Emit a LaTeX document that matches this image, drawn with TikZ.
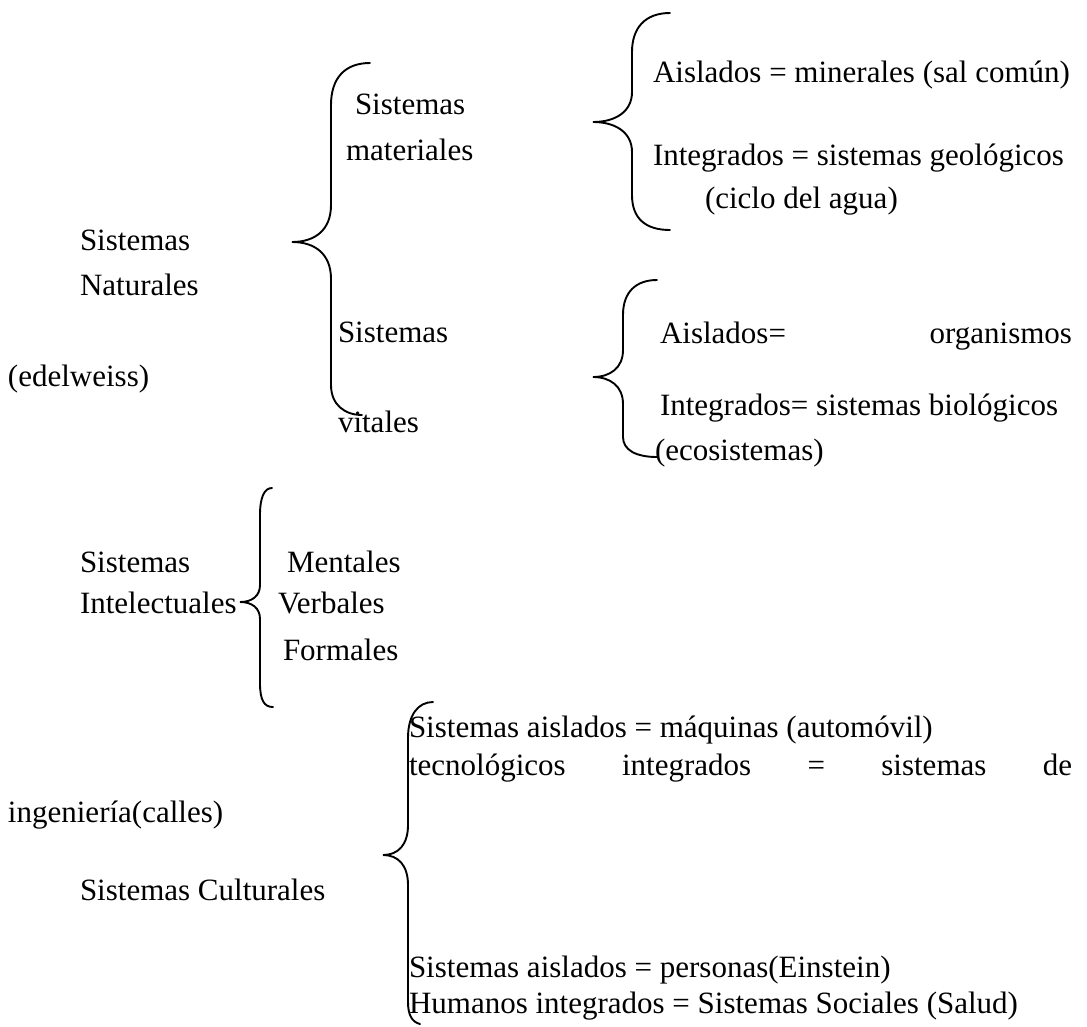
\documentclass[tikz,border=0pt]{standalone}
\usepackage{fontspec}
\setmainfont{Liberation Serif}
\usetikzlibrary{positioning}

\begin{document}
\begin{tikzpicture}[
            x=1pt, y=-1pt,
            font=\fontsize{31}{36}\selectfont,
            % Stili
            texto/.style={anchor=base west, inner sep=0pt, outer sep=0pt},
            giustif/.style={texto, text width=#1, align=justify},
            llave/.style={draw=black, line width=1.9pt, line cap=round}
        ]
        \useasboundingbox (0,0) rectangle (1087,1026);

        % Sistemas Naturales
        \node (nat_a) [texto] at (80,250) {Sistemas};
        \node (nat_b) [texto] at (80,295) {Naturales};
        \node (nat_c) [texto] at (8,386) {(edelweiss)};
        \draw [llave] (370,63) .. controls (345,63) and (331,78) .. (331,105) -- (331,205)
            .. controls (331,230) and (315,242) .. (292,242) .. controls (315,242) and (331,254) .. (331,279)
            -- (331,385) .. controls (331,405) and (345,415) .. (362,415);

        \node (mat_a) [texto] at (355,114) {Sistemas};
        \node (mat_b) [texto] at (346,160) {materiales};
        \node (vit_a) [texto] at (338,342) {Sistemas};
        \node (vit_b) [texto] at (338,432) {vitales};

        % Materiales
        \draw [llave] (670,13) .. controls (645,13) and (632,28) .. (632,52) -- (632,92)
            .. controls (632,112) and (615,122) .. (593,122) .. controls (615,122) and (632,132) .. (632,152)
            -- (632,195) .. controls (632,218) and (645,230) .. (670,230);
        \node (mat_ais) [texto] at (653,82) {Aislados = minerales (sal común)};
        \node (mat_int) [texto] at (653,165) {Integrados = sistemas geológicos};
        \node (mat_cic) [texto] at (705,208) {(ciclo del agua)};

        % Vitales
        \draw [llave] (657,280) .. controls (636,280) and (623,292) .. (623,315) -- (623,350)
            .. controls (623,368) and (610,377) .. (593,377) .. controls (610,377) and (623,386) .. (623,404)
            -- (623,437) .. controls (623,450) and (636,457) .. (657,457);
        \node (vit_ais) [giustif=412pt] at (660,343) {Aislados=\hfill organismos};
        \node (vit_int) [texto] at (660,415) {Integrados= sistemas biológicos};
        \node (vit_eco) [texto] at (655,460) {(ecosistemas)};

        % Sistemas Intelectuales
        \node (int_a) [texto] at (80,572) {Sistemas};
        \node (int_b) [texto] at (80,613) {Intelectuales};
        \draw [llave] (272,488) .. controls (264,488) and (260,498) .. (260,515) -- (260,585)
            .. controls (260,596) and (252,602) .. (240,602) .. controls (252,602) and (260,608) .. (260,619)
            -- (260,683) .. controls (260,700) and (264,707) .. (273,707);
        \node (int_m) [texto] at (287,572) {Mentales};
        \node (int_v) [texto] at (278,613) {Verbales};
        \node (int_f) [texto] at (283,660) {Formales};

        % Sistemas Culturales
        \node (cul_a) [texto] at (80,900) {Sistemas Culturales};
        \draw [llave] (433,702) .. controls (418,702) and (408,715) .. (408,738) -- (408,825)
            .. controls (408,845) and (398,855) .. (383,855) .. controls (398,855) and (408,865) .. (408,885)
            -- (408,1002) .. controls (408,1015) and (412,1022) .. (420,1024);
        \node (tec_ais) [texto] at (409,737) {Sistemas aislados = máquinas (automóvil)};
        \node (tec_int) [giustif=663pt] at (409,775) {tecnológicos\hfill integrados\hfill =\hfill sistemas\hfill de};
        \node (tec_ing) [texto] at (8,822) {ingeniería(calles)};
        \node (hum_ais) [texto] at (409,977) {Sistemas aislados = personas(Einstein)};
        \node (hum_int) [texto] at (409,1013) {Humanos integrados = Sistemas Sociales (Salud)};

    \end{tikzpicture}
\end{document}
